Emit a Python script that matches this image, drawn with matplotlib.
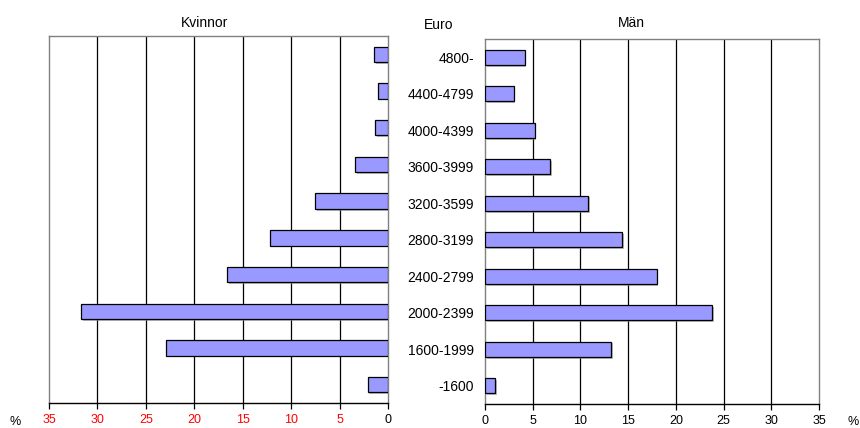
import numpy as np
import matplotlib.pyplot as plt
import matplotlib.patheffects as pe

plt.rcParams['font.family'] = ['Liberation Sans', 'DejaVu Sans']

# inkomstklasser, Euro (uppifran och ner)
klasser = ['4800-', '4400-4799', '4000-4399', '3600-3999', '3200-3599',
           '2800-3199', '2400-2799', '2000-2399', '1600-1999', '-1600']
kvinnor = [1.45, 1.0, 1.3, 3.4, 7.5, 12.2, 16.6, 31.7, 22.9, 2.1]
man = [4.15, 3.0, 5.2, 6.8, 10.8, 14.4, 18.0, 23.8, 13.2, 1.1]
ticks = [0, 5, 10, 15, 20, 25, 30, 35]

W, H = 860, 428
fig = plt.figure(figsize=(W / 100, H / 100), dpi=100)
axL = fig.add_axes([49 / W, 1 - 403 / H, (388 - 49) / W, (403 - 36) / H])
axR = fig.add_axes([485 / W, 1 - 404 / H, (819 - 485) / W, (404 - 39) / H])

y = np.arange(len(klasser))
skugga = [pe.SimplePatchShadow(offset=(1.2, -1.2), shadow_rgbFace='#909090', alpha=0.6), pe.Normal()]

for ax, vals in ((axL, kvinnor), (axR, man)):
    ax.set_xlim(0, 35)
    ax.set_ylim(len(klasser) - 0.5, -0.5)
    for t in ticks[1:-1]:
        ax.axvline(t, color='black', lw=0.9, zorder=1)
    bars = ax.barh(y, vals, height=0.42, color='#9999ff', edgecolor='black', lw=0.9, zorder=3)
    for b in bars:
        b.set_path_effects(skugga)
    for s in ax.spines.values():
        s.set_color('#808080')
        s.set_linewidth(1.0)
    ax.spines['bottom'].set_color('black')
    ax.set_xticks(ticks)
    ax.tick_params(axis='x', direction='out', length=4, width=0.9, labelsize=9, pad=4)
    ax.tick_params(axis='y', length=0)

axL.invert_xaxis()
axL.set_yticks([])
for lab in axL.get_xticklabels():
    lab.set_color('red')
axL.get_xticklabels()[0].set_color('black')

axR.set_yticks(y)
axR.set_yticklabels(klasser, fontsize=10)
axR.tick_params(axis='y', pad=8)

fig.text(205 / W, 1 - 23 / H, 'Kvinnor', ha='center', va='center', fontsize=10)
fig.text(439 / W, 1 - 25 / H, 'Euro', ha='center', va='center', fontsize=10)
fig.text(631 / W, 1 - 23 / H, 'Män', ha='center', va='center', fontsize=10)
fig.text(15 / W, 1 - 422 / H, '%', ha='center', va='center', fontsize=9)
fig.text(853 / W, 1 - 422 / H, '%', ha='center', va='center', fontsize=9)

fig.savefig('out.png', dpi=100)
